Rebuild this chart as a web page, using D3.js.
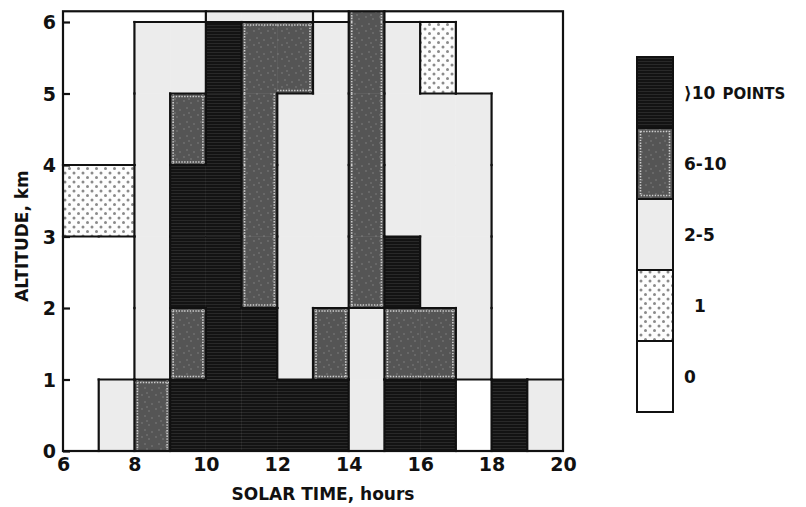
<!DOCTYPE html>
<html>
<head>
<meta charset="utf-8">
<script src="https://cdn.jsdelivr.net/npm/d3@7"></script>
<style>
body{margin:0;background:#fff;}
svg text{font-family:"DejaVu Sans",sans-serif;font-weight:bold;fill:#111;}
</style>
</head>
<body>
<div id="container"></div>
<script>
// category per 1 h x 1 km cell, rows bottom (0 km) to top, columns 6..19 h
// 0 = 0, 1 = 1, 2 = 2-5, 3 = 6-10, 4 = >10 points
var hours = [6,7,8,9,10,11,12,13,14,15,16,17,18,19];
var altitudes = [0,1,2,3,4,5,6];
var row0 = [0,2,3,4,4,4,4,4,2,4,4,0,4,2];
var row1 = [0,0,2,3,4,4,2,3,2,3,3,2,0,0];
var row2 = [0,0,2,4,4,3,2,2,3,4,2,2,0,0];
var row3 = [1,1,2,4,4,3,2,2,3,2,2,2,0,0];
var row4 = [0,0,2,3,4,3,2,2,3,2,2,2,0,0];
var row5 = [0,0,2,2,4,3,3,2,3,2,1,0,0,0];
var row6 = [0,0,0,0,2,2,2,0,3,0,0,0,0,0];
var grid = [row0,row1,row2,row3,row4,row5,row6];

var xTicks = [6,8,10,12,14,16,18,20];
var yTicks = [0,1,2,3,4,5,6];
var legendLabels = ['\u27e910 POINTS','6-10','2-5','1','0'];
var legendCats = [4,3,2,1,0];

var vis = (function(){
	var self = {};
	self.w = 806; self.h = 507;
	self.yTop = 6.15;

	self.fills = {0:'#ffffff',1:'url(#pOne)',2:'#ececec',3:'url(#pMid)',4:'url(#pHigh)'};

	self.generate = function(){
		var svg = d3.select('#container').append('svg')
			.attr('width',self.w).attr('height',self.h);

		var defs = svg.append('defs');
		// >10: black with faint horizontal scan lines
		var ph = defs.append('pattern').attr('id','pHigh').attr('patternUnits','userSpaceOnUse')
			.attr('width',6).attr('height',3);
		ph.append('rect').attr('width',6).attr('height',3).attr('fill','#131313');
		ph.append('line').attr('x1',0).attr('x2',6).attr('y1',1.5).attr('y2',1.5)
			.attr('stroke','#2e2e2e').attr('stroke-width',0.8);
		// 6-10: mid gray with light speckles
		var pm = defs.append('pattern').attr('id','pMid').attr('patternUnits','userSpaceOnUse')
			.attr('width',14).attr('height',14);
		pm.append('rect').attr('width',14).attr('height',14).attr('fill','#555555');
		[[2,3],[9,5],[5,10],[12,12],[7,1]].forEach(function(p){
			pm.append('circle').attr('cx',p[0]).attr('cy',p[1]).attr('r',0.7).attr('fill','#8a8a8a');
		});
		// 1: white with gray dots
		var po = defs.append('pattern').attr('id','pOne').attr('patternUnits','userSpaceOnUse')
			.attr('width',9).attr('height',9);
		po.append('rect').attr('width',9).attr('height',9).attr('fill','#fdfdfd');
		po.append('circle').attr('cx',2).attr('cy',2).attr('r',1.5).attr('fill','#8a8a8a');
		po.append('circle').attr('cx',6.5).attr('cy',6.5).attr('r',1.5).attr('fill','#8a8a8a');

		var x = d3.scaleLinear().domain([6,20]).range([63,563]);
		var y = d3.scaleLinear().domain([0,6]).range([451,22]);
		var yT = Math.min(self.yTop, 7);

		var cells = [];
		grid.forEach(function(row,r){
			row.forEach(function(c,i){
				cells.push({h:hours[i], a:altitudes[r], top:Math.min(altitudes[r]+1,yT), cat:c, r:r, i:i});
			});
		});

		var g = svg.append('g');
		g.selectAll('rect.cell').data(cells).enter().append('rect')
			.classed('cell',true)
			.attr('x',function(d){ return x(d.h); })
			.attr('y',function(d){ return y(d.top); })
			.attr('width',function(d){ return x(d.h+1)-x(d.h); })
			.attr('height',function(d){ return y(d.a)-y(d.top); })
			.attr('fill',function(d){ return self.fills[d.cat]; })
			.attr('stroke',function(d){ return self.fills[d.cat]; })
			.attr('stroke-width',0.5);

		// borders where category changes
		var edges = [], dots = [];
		cells.forEach(function(d){
			var right = d.i+1 < hours.length ? grid[d.r][d.i+1] : null;
			if(right !== null && right !== d.cat){
				edges.push({x1:x(d.h+1),x2:x(d.h+1),y1:y(d.a),y2:y(d.top)});
				if(d.cat===3) dots.push({x1:x(d.h+1)-3,x2:x(d.h+1)-3,y1:y(d.a),y2:y(d.top)});
				if(right===3) dots.push({x1:x(d.h+1)+3,x2:x(d.h+1)+3,y1:y(d.a),y2:y(d.top)});
			}
			var up = d.r+1 < grid.length ? grid[d.r+1][d.i] : null;
			if(up !== null && up !== d.cat){
				edges.push({x1:x(d.h),x2:x(d.h+1),y1:y(d.top),y2:y(d.top)});
				if(d.cat===3) dots.push({x1:x(d.h),x2:x(d.h+1),y1:y(d.top)+3,y2:y(d.top)+3});
				if(up===3) dots.push({x1:x(d.h),x2:x(d.h+1),y1:y(d.top)-3,y2:y(d.top)-3});
			}
		});
		g.selectAll('line.dot').data(dots).enter().append('line')
			.attr('x1',function(d){return d.x1;}).attr('x2',function(d){return d.x2;})
			.attr('y1',function(d){return d.y1;}).attr('y2',function(d){return d.y2;})
			.attr('stroke','#cfcfcf').attr('stroke-width',1.6).attr('stroke-dasharray','1.4,1.4');
		g.selectAll('line.edge').data(edges).enter().append('line')
			.attr('x1',function(d){return d.x1;}).attr('x2',function(d){return d.x2;})
			.attr('y1',function(d){return d.y1;}).attr('y2',function(d){return d.y2;})
			.attr('stroke','#111').attr('stroke-width',2.2).attr('stroke-linecap','square');

		// frame
		svg.append('rect')
			.attr('x',x(6)).attr('y',y(yT))
			.attr('width',x(20)-x(6)).attr('height',y(0)-y(yT))
			.attr('fill','none').attr('stroke','#111').attr('stroke-width',2.2);

		// axes
		var yAxis = d3.axisRight(y).tickValues(yTicks).tickSize(7).tickFormat(d3.format('d'));
		var ya = svg.append('g').attr('transform','translate('+x(6)+',0)').call(yAxis);
		ya.select('.domain').remove();
		ya.selectAll('line').attr('stroke','#111').attr('stroke-width',2.2);
		ya.selectAll('text').attr('x',-7).attr('text-anchor','end').attr('font-size',19).attr('dy','0.36em');

		var xAxis = d3.axisBottom(x).tickValues(xTicks).tickSize(0).tickFormat(d3.format('d'));
		var xa = svg.append('g').attr('transform','translate(0,'+y(0)+')').call(xAxis);
		xa.select('.domain').remove();
		xa.selectAll('text').attr('y',7).attr('font-size',19).attr('dy','0.71em');

		svg.append('text').attr('x',323).attr('y',500).attr('text-anchor','middle')
			.attr('font-size',17).text('SOLAR TIME, hours');
		svg.append('text').attr('transform','translate(28,236) rotate(-90)').attr('text-anchor','middle')
			.attr('font-size',17).text('ALTITUDE, km');

		// legend
		var ly = d3.scaleBand().domain(legendLabels).range([57,412]);
		var lg = svg.append('g');
		var items = lg.selectAll('g.item').data(legendLabels).enter().append('g').classed('item',true);
		items.append('rect')
			.attr('x',637).attr('y',function(d){return ly(d);})
			.attr('width',36).attr('height',ly.bandwidth())
			.attr('fill',function(d,i){return self.fills[legendCats[i]];})
			.attr('stroke','#111').attr('stroke-width',2);
		items.filter(function(d,i){return legendCats[i]===3;}).append('rect')
			.attr('x',640.5).attr('y',function(d){return ly(d)+3.5;})
			.attr('width',29).attr('height',ly.bandwidth()-7)
			.attr('fill','none').attr('stroke','#cfcfcf').attr('stroke-width',1.6).attr('stroke-dasharray','1.4,1.4');
		items.append('text')
			.attr('x',function(d,i){return legendCats[i]===1 ? 694 : 684;})
			.attr('y',function(d){return ly(d)+ly.bandwidth()/2;})
			.attr('dy','0.36em').attr('font-size',17)
			.each(function(d){
				var t = d3.select(this);
				if(d.indexOf('POINTS')>=0){
					t.append('tspan').text(d.split(' ')[0]);
					t.append('tspan').attr('font-size',15).attr('dx',7).text('POINTS');
				} else t.text(d);
			});
	};
	return self;
})();
vis.generate();
</script>
</body>
</html>
